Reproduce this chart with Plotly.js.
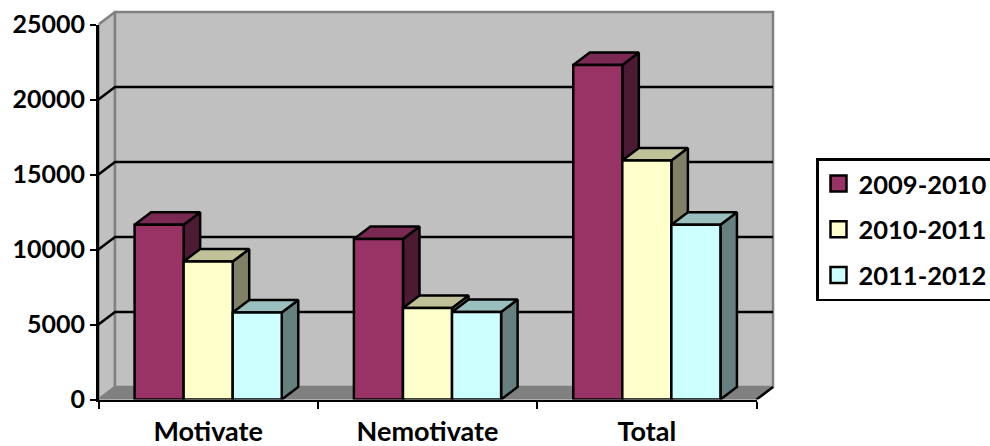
<!DOCTYPE html>
<html>
<head>
<meta charset="utf-8">
<script src="https://cdn.plot.ly/plotly-3.0.1.min.js"></script>
<style>html,body{margin:0;padding:0;background:#fff;overflow:hidden}</style>
</head>
<body>
<div id="chart" style="width:990px;height:446px"></div>
<script>
const categories = ["Motivate", "Nemotivate", "Total"];
const seriesNames = ["2009-2010", "2010-2011", "2011-2012"];
const values2009 = [11650, 10700, 22300];
const values2010 = [9200, 6100, 15930];
const values2011 = [5800, 5830, 11650];
const frontColors = ["#993366", "#FFFFCC", "#CCFFFF"];
const topColors = ["#7A2952", "#C0C099", "#99BFBF"];
const sideColors = ["#4D1A33", "#808066", "#668080"];
const gridValues = [5000, 10000, 15000, 20000];

const seriesValues = [values2009, values2010, values2011];
const W = 990, H = 446;
const yMax = 25000, xMin = -0.5, xMax = 2.5;
const bargap = 0.329, barW = (1 - bargap) / 3;
const depthX = 0.0753, depthY = 833;
const edge = 2.5;
// pixel frame of the visible axes and of the wider hidden axes behind them
const axL = 98.5, axR = 756.5, axT = 24.5, axB = 399.5, backR = 776, backT = 8;
const xScale = (axR - axL) / (xMax - xMin), yScale = (axB - axT) / yMax;
const baseFont = {family: "Lato, 'Open Sans', sans-serif", color: "#000", weight: "bold"};

function poly(xs, ys, fill, lineColor, lineWidth) {
  return {type: "scatter", mode: "lines", x: xs, y: ys, fill: "toself", fillcolor: fill,
    line: {color: lineColor, width: lineWidth}, showlegend: false, hoverinfo: "skip", xaxis: "x", yaxis: "y"};
}

const traces = [];
// side wall, back wall, floor
traces.push(poly([xMin, xMin + depthX, xMin + depthX, xMin, xMin], [0, depthY, yMax + depthY, yMax, 0], "#C0C0C0", "#808080", 2.5));
traces.push(poly([xMin + depthX, xMax + depthX, xMax + depthX, xMin + depthX, xMin + depthX], [depthY, depthY, yMax + depthY, yMax + depthY, depthY], "#C0C0C0", "#808080", 2.5));
traces.push(poly([xMin, xMax, xMax + depthX, xMin + depthX, xMin], [0, 0, depthY, depthY, 0], "#808080", "#808080", 1.5));
// black right floor edge
traces.push({type: "scatter", mode: "lines", x: [xMax, xMax + depthX], y: [0, depthY], line: {color: "#000", width: edge},
  showlegend: false, hoverinfo: "skip", xaxis: "x", yaxis: "y"});
// gridlines on side and back wall
const gx = [], gy = [];
gridValues.forEach(v => { gx.push(xMin, xMin + depthX, xMax + depthX, null); gy.push(v, v + depthY, v + depthY, null); });
traces.push({type: "scatter", mode: "lines", x: gx, y: gy, line: {color: "#000", width: edge},
  showlegend: false, hoverinfo: "skip", xaxis: "x", yaxis: "y"});

// side and top faces, series by series so later bars cover earlier ones
seriesValues.forEach((vals, s) => {
  vals.forEach((v, c) => {
    const left = c + (s - 1.5) * barW, right = left + barW;
    traces.push(poly([right, right + depthX, right + depthX, right, right], [0, depthY, v + depthY, v, 0], sideColors[s], "#000", edge));
    traces.push(poly([left, right, right + depthX, left + depthX, left], [v, v, v + depthY, v + depthY, v], topColors[s], "#000", edge));
  });
});

// front faces on the visible axes
seriesValues.forEach((vals, s) => {
  traces.push({type: "bar", x: categories, y: vals, name: seriesNames[s], xaxis: "x2", yaxis: "y2",
    marker: {color: frontColors[s], line: {color: "#000", width: edge}}, showlegend: false,
    hovertemplate: "%{x}: %{y}<extra>" + seriesNames[s] + "</extra>"});
});
// legend entries
seriesNames.forEach((n, s) => {
  traces.push({type: "scatter", mode: "markers", x: [null], y: [null], name: n, xaxis: "x2", yaxis: "y2",
    legendgroup: n, marker: {symbol: "square", size: 16, color: frontColors[s], line: {color: "#000", width: edge}}});
});

const layout = {
  width: W, height: H, paper_bgcolor: "#fff", plot_bgcolor: "rgba(0,0,0,0)", showlegend: true,
  margin: {l: 0, r: 0, t: 0, b: 0, pad: 0, autoexpand: false},
  barmode: "group", bargap: bargap, bargroupgap: 0,
  xaxis: {visible: false, type: "linear", domain: [axL / W, backR / W],
    range: [xMin, xMin + (backR - axL) / xScale], fixedrange: true},
  yaxis: {visible: false, type: "linear", domain: [1 - axB / H, 1 - backT / H],
    range: [0, (axB - backT) / yScale], fixedrange: true},
  xaxis2: {anchor: "y2", type: "category", categoryorder: "array", categoryarray: categories,
    domain: [axL / W, axR / W], range: [xMin, xMax], tickson: "boundaries", ticks: "outside", ticklen: 7, tickwidth: 2, tickcolor: "#000",
    showline: true, linecolor: "#000", linewidth: edge, showgrid: false, zeroline: false,
    tickfont: Object.assign({size: 27}, baseFont), ticklabelstandoff: 7, fixedrange: true},
  yaxis2: {anchor: "x2", domain: [1 - axB / H, 1 - axT / H], range: [0, yMax], tickmode: "array",
    tickvals: [0, 5000, 10000, 15000, 20000, 25000], ticktext: ["0", "5000", "10000", "15000", "20000", "25000"],
    ticks: "outside", ticklen: 6, tickwidth: 2, tickcolor: "#000", showline: true, linecolor: "#000", linewidth: edge,
    showgrid: false, zeroline: false, tickfont: Object.assign({size: 25}, baseFont), fixedrange: true},
  legend: {x: 816 / W, xanchor: "left", y: 1 - 158 / H, yanchor: "top", bgcolor: "#fff", bordercolor: "#000",
    borderwidth: edge, font: Object.assign({size: 25.5}, baseFont), traceorder: "grouped", tracegroupgap: 9.5, itemwidth: 30,
    entrywidth: 172, itemclick: false, itemdoubleclick: false}
};
Plotly.newPlot("chart", traces, layout, {displayModeBar: false, staticPlot: true});
</script>
</body>
</html>
